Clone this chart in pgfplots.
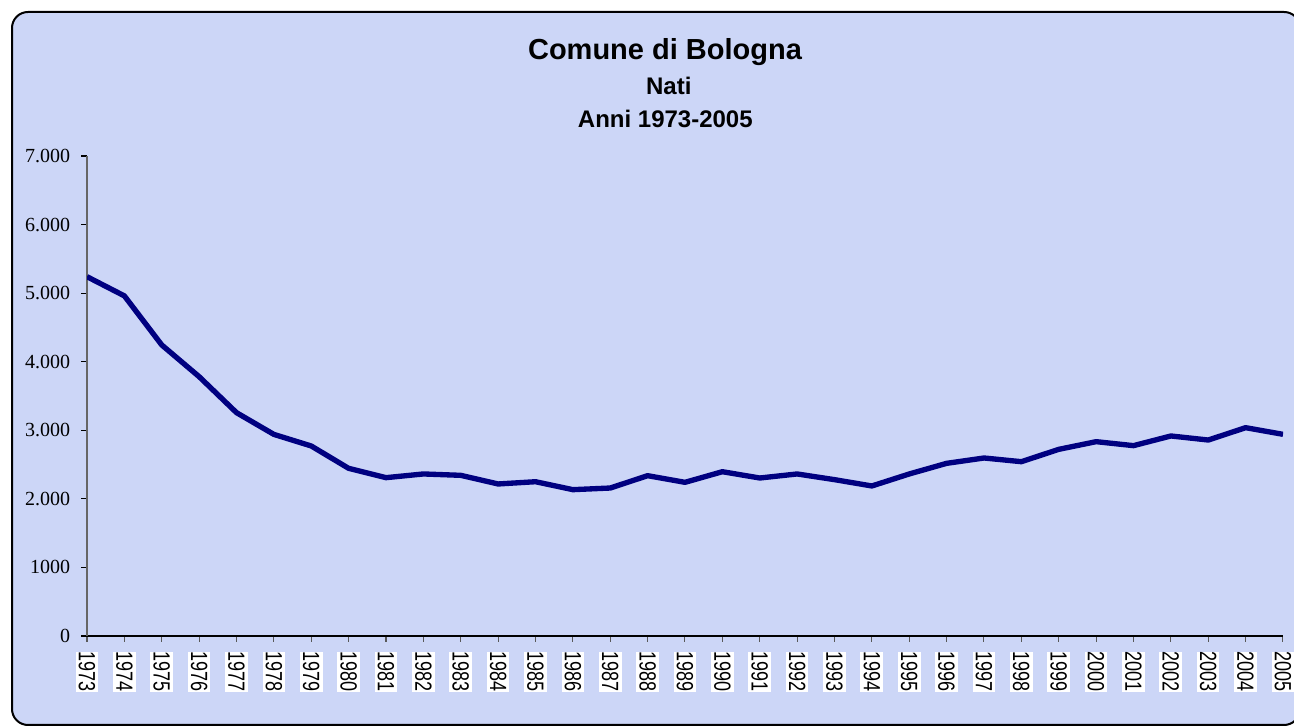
\documentclass[border=0pt]{standalone}
\usepackage{pgfplots}
\pgfplotsset{compat=1.18}
\usepackage{fontspec}
\setmainfont{Liberation Sans}
\newfontfamily\seriffont{Liberation Serif}
\usepackage{graphicx}
\definecolor{bg}{RGB}{204,214,247}
\definecolor{navyline}{RGB}{0,0,128}
\newcommand\yr[1]{\scalebox{1}[1.3]{#1}}
\begin{document}
\begin{tikzpicture}
\useasboundingbox (0,0) rectangle (970.5pt,545.25pt);
\begin{scope}
\clip (0,0) rectangle (970.5pt,545.25pt);
\draw[line width=1.5pt, rounded corners=12pt, fill=bg] (9pt,1.5pt) rectangle (975pt,536.25pt);
\end{scope}
\node[font=\fontsize{21.75}{24}\selectfont\bfseries, anchor=base, inner sep=0pt] at (498.75pt,500.25pt) {Comune di Bologna};
\node[font=\fontsize{18}{20}\selectfont\bfseries, anchor=base, inner sep=0pt] at (501.6pt,474pt) {Nati};
\node[font=\fontsize{18}{20}\selectfont\bfseries, anchor=base, inner sep=0pt] at (499pt,449.8pt) {Anni 1973-2005};
\begin{axis}[
  at={(65.25pt,68.25pt)}, anchor=south west,
  scale only axis, width=897pt, height=360pt,
  xmin=1973, xmax=2005, ymin=0, ymax=7000,
  axis x line=bottom, axis y line=left,
  axis line style={-},
  x axis line style={black, line width=1pt},
  y axis line style={gray!80!black, line width=1pt},
  tick align=outside, major tick length=4.5pt,
  xtick style={gray!70!black, line width=0.8pt},
  ytick style={black, line width=0.8pt},
  ytick={0,1000,2000,3000,4000,5000,6000,7000},
  yticklabels={0,1000,2.000,3.000,4.000,5.000,6.000,7.000},
  yticklabel style={font=\seriffont\fontsize{15}{16}\selectfont, inner sep=0pt, anchor=east, xshift=-8pt},
  xtick={1973,...,2005},
  xticklabels={\yr{1973},\yr{1974},\yr{1975},\yr{1976},\yr{1977},\yr{1978},\yr{1979},\yr{1980},\yr{1981},\yr{1982},\yr{1983},\yr{1984},\yr{1985},\yr{1986},\yr{1987},\yr{1988},\yr{1989},\yr{1990},\yr{1991},\yr{1992},\yr{1993},\yr{1994},\yr{1995},\yr{1996},\yr{1997},\yr{1998},\yr{1999},\yr{2000},\yr{2001},\yr{2002},\yr{2003},\yr{2004},\yr{2005}},
  xticklabel style={font=\fontsize{13.5}{14}\selectfont, fill=white, inner sep=0pt, minimum width=29pt, minimum height=17pt, yshift=-7pt, rotate=-90, anchor=west},
]
\addplot[navyline, line width=4pt, line join=round] coordinates {
(1973,5240) (1974,4960) (1975,4244) (1976,3782) (1977,3257) (1978,2940)
(1979,2771) (1980,2445) (1981,2309) (1982,2363) (1983,2343) (1984,2217)
(1985,2250) (1986,2134) (1987,2158) (1988,2338) (1989,2241) (1990,2396)
(1991,2304) (1992,2363) (1993,2280) (1994,2188) (1995,2363) (1996,2518)
(1997,2596) (1998,2542) (1999,2722) (2000,2834) (2001,2776) (2002,2917)
(2003,2858) (2004,3038) (2005,2941)
};
\end{axis}
\end{tikzpicture}
\end{document}
